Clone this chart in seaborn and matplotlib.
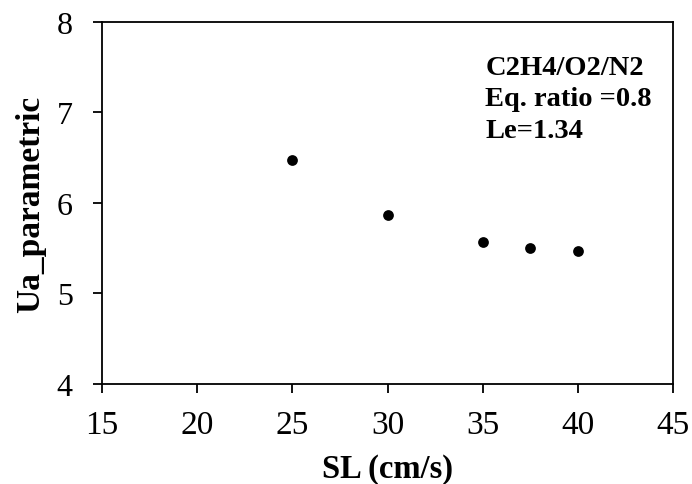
import matplotlib
matplotlib.use("Agg")
import matplotlib.pyplot as plt
import seaborn as sns
import pandas as pd

sl = [25, 30, 35, 37.5, 40]
ua = [6.48, 5.87, 5.57, 5.50, 5.47]
x_ticks = [15, 20, 25, 30, 35, 40, 45]
y_ticks = [4, 5, 6, 7, 8]
annotation = "C2H4/O2/N2\nEq. ratio =0.8\nLe=1.34"

sns.set_style("ticks")
plt.rcParams['font.family'] = ['Liberation Serif', 'DejaVu Serif']
plt.rcParams['text.color'] = 'black'
plt.rcParams['axes.labelcolor'] = 'black'

df = pd.DataFrame({"SL": sl, "Ua": ua})

fig = plt.figure(figsize=(6.92, 4.85), dpi=100)
ax = fig.add_axes([0.1474, 0.2062, 0.8252, 0.7464])
sns.scatterplot(data=df, x="SL", y="Ua", ax=ax, color="black", s=60,
                edgecolor="black", linewidth=0, legend=False)

ax.set_xlim(15, 45)
ax.set_ylim(4, 8)
ax.set_xticks(x_ticks)
ax.set_yticks(y_ticks)
ax.tick_params(axis="both", direction="out", length=6.5, width=1.3,
               colors="black")
ax.tick_params(axis="x", pad=12, labelsize=24)
ax.tick_params(axis="y", pad=14.5, labelsize=23)
for sp in ax.spines.values():
    sp.set_visible(True)
    sp.set_linewidth(1.3)
    sp.set_color("black")

ax.set_xlabel("SL (cm/s)", fontsize=23.5, fontweight="bold", labelpad=9)
ax.set_ylabel("Ua_parametric", fontsize=24, fontweight="bold", labelpad=8)

ax.text(0.671, 0.910, annotation, transform=ax.transAxes, fontsize=20.5,
        fontweight="bold", va="top", ha="left", linespacing=1.35)

fig.savefig("out.png", dpi=100)
